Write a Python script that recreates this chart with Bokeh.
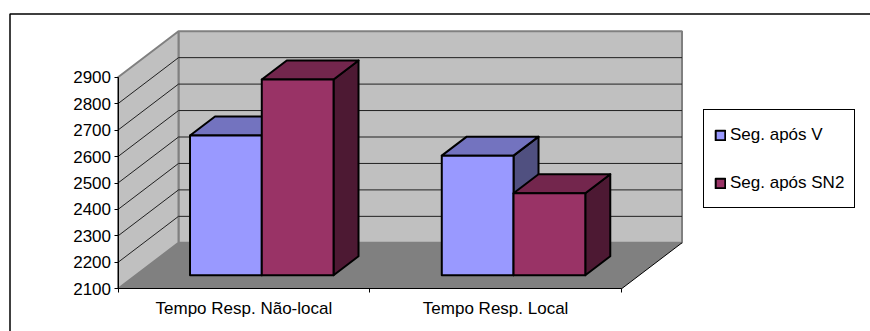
from bokeh.embed import file_html
from bokeh.models import BoxAnnotation, FixedTicker, Legend, LegendItem, Range1d
from bokeh.plotting import figure
from bokeh.resources import INLINE

categories = ["Tempo Resp. Não-local", "Tempo Resp. Local"]
series_names = ["Seg. após V", "Seg. após SN2"]
seg_apos_v = [2628, 2552]
seg_apos_sn2 = [2840, 2410]
value_ticks = [2100, 2200, 2300, 2400, 2500, 2600, 2700, 2800, 2900]

FONT = "Liberation Sans"
TEXT_SIZE = "17px"
WIDTH, HEIGHT = 870, 331

# The plot frame fills the canvas; scales place the chart box inside it.
X_ORIGIN_PX, X_UNIT_PX = 117.5, 251.75
Y_ORIGIN_PX, Y_UNIT_PX = 288.3, 0.2645

# Oblique projection: depth d in [0, 1] shifts a point right and up.
DEPTH_X = 60.5 / X_UNIT_PX
DEPTH_Y = 46.0 / Y_UNIT_PX
BAR_WIDTH = 0.285
FRONT_D = 0.296
BACK_D = 0.709

V_MIN, V_MAX = value_ticks[0], value_ticks[-1]


def proj(x, v, d):
    return x + d * DEPTH_X, v + d * DEPTH_Y


def quad(points):
    pairs = [proj(*pt) for pt in points]
    return [a for a, _ in pairs], [b for _, b in pairs]


p = figure(
    width=WIDTH, height=HEIGHT, output_backend="svg", toolbar_location=None,
    x_range=Range1d(-X_ORIGIN_PX / X_UNIT_PX, (WIDTH - X_ORIGIN_PX) / X_UNIT_PX),
    y_range=Range1d(V_MIN - (HEIGHT - Y_ORIGIN_PX) / Y_UNIT_PX, V_MIN + Y_ORIGIN_PX / Y_UNIT_PX),
    min_border=0, outline_line_color=None, background_fill_color="white",
)
p.grid.visible = False

# Value axis runs along the front edge of the side wall.
p.yaxis.fixed_location = 0
p.yaxis.ticker = FixedTicker(ticks=value_ticks)
p.yaxis.bounds = (V_MIN, V_MAX)
p.yaxis.axis_line_color = "black"
p.yaxis.major_tick_line_color = "black"
p.yaxis.major_tick_out = 4
p.yaxis.major_tick_in = 0
p.yaxis.minor_tick_line_color = None
p.yaxis.major_label_text_font = FONT
p.yaxis.major_label_text_font_size = TEXT_SIZE
p.yaxis.major_label_text_color = "black"
p.yaxis.major_label_standoff = 3

# Category labels sit mid-group; the group boundaries carry the tick marks.
p.xaxis.fixed_location = V_MIN
p.xaxis.ticker = FixedTicker(ticks=[0.5, 1.5], minor_ticks=[0, 1, 2])
p.xaxis.major_label_overrides = {0.5: categories[0], 1.5: categories[1]}
p.xaxis.bounds = (0, 2)
p.xaxis.axis_line_color = "black"
p.xaxis.major_tick_line_color = None
p.xaxis.major_tick_out = 0
p.xaxis.minor_tick_line_color = "black"
p.xaxis.minor_tick_out = 4
p.xaxis.minor_tick_in = 0
p.xaxis.major_label_text_font = FONT
p.xaxis.major_label_text_font_size = TEXT_SIZE
p.xaxis.major_label_text_color = "black"
p.xaxis.major_label_standoff = 6

WALL = "#C0C0C0"
EDGE = "#808080"

# Back wall, side wall, floor.
xs, ys = quad([(0, V_MIN, 1), (2, V_MIN, 1), (2, V_MAX, 1), (0, V_MAX, 1)])
p.patch(xs, ys, fill_color=WALL, line_color=EDGE, line_width=2)
xs, ys = quad([(0, V_MIN, 0), (0, V_MIN, 1), (0, V_MAX, 1), (0, V_MAX, 0)])
p.patch(xs, ys, fill_color=WALL, line_color=EDGE, line_width=2)
xs, ys = quad([(0, V_MIN, 0), (2, V_MIN, 0), (2, V_MIN, 1), (0, V_MIN, 1)])
p.patch(xs, ys, fill_color=EDGE, line_color=None)
xs, ys = quad([(2, V_MIN, 0), (2, V_MIN, 1)])
p.line(xs, ys, line_color="black", line_width=1)

# Gridlines fold from the side wall onto the back wall.
for tick in value_ticks[1:-1]:
    xs, ys = quad([(0, tick, 0), (0, tick, 1), (2, tick, 1)])
    p.line(xs, ys, line_color="#202020", line_width=1)


def draw_bar(x0, value, front, top, side):
    x1 = x0 + BAR_WIDTH
    style = dict(line_color="black", line_width=2, line_join="round")
    xs, ys = quad([(x1, V_MIN, FRONT_D), (x1, V_MIN, BACK_D), (x1, value, BACK_D), (x1, value, FRONT_D)])
    p.patch(xs, ys, fill_color=side, **style)
    xs, ys = quad([(x0, value, FRONT_D), (x1, value, FRONT_D), (x1, value, BACK_D), (x0, value, BACK_D)])
    p.patch(xs, ys, fill_color=top, **style)
    xs, ys = quad([(x0, V_MIN, FRONT_D), (x1, V_MIN, FRONT_D), (x1, value, FRONT_D), (x0, value, FRONT_D)])
    return p.patch(xs, ys, fill_color=front, **style)


BLUE = ("#9999FF", "#7373BF", "#505080")
MAROON = ("#993366", "#73264D", "#4D1933")

# Left bars are painted first so the right bar overlaps their side faces.
handles = []
for i in range(len(categories)):
    h_v = draw_bar(i + 0.5 - BAR_WIDTH, seg_apos_v[i], *BLUE)
    h_s = draw_bar(i + 0.5, seg_apos_sn2[i], *MAROON)
    handles = [h_v, h_s]

legend = Legend(
    items=[LegendItem(label=series_names[0], renderers=[handles[0]]),
           LegendItem(label=series_names[1], renderers=[handles[1]])],
    location=(703, 123),
    glyph_width=12, glyph_height=12, label_standoff=4, label_height=29,
    spacing=19, padding=10, margin=0,
    border_line_color="black", border_line_width=1, border_line_alpha=1,
    background_fill_color="white", background_fill_alpha=1,
    label_text_font=FONT, label_text_font_size=TEXT_SIZE, label_text_color="black",
)
p.add_layout(legend, "center")

# Black frame: its top and left edges show, the others run past the canvas.
p.add_layout(BoxAnnotation(
    left=9.5, right=WIDTH + 10, top=13.5, bottom=HEIGHT + 10,
    left_units="canvas", right_units="canvas", top_units="canvas", bottom_units="canvas",
    fill_color=None, fill_alpha=0, line_color="black", line_alpha=1, line_width=1.5, level="overlay",
))

open("out.html", "w").write(file_html(p, INLINE))
